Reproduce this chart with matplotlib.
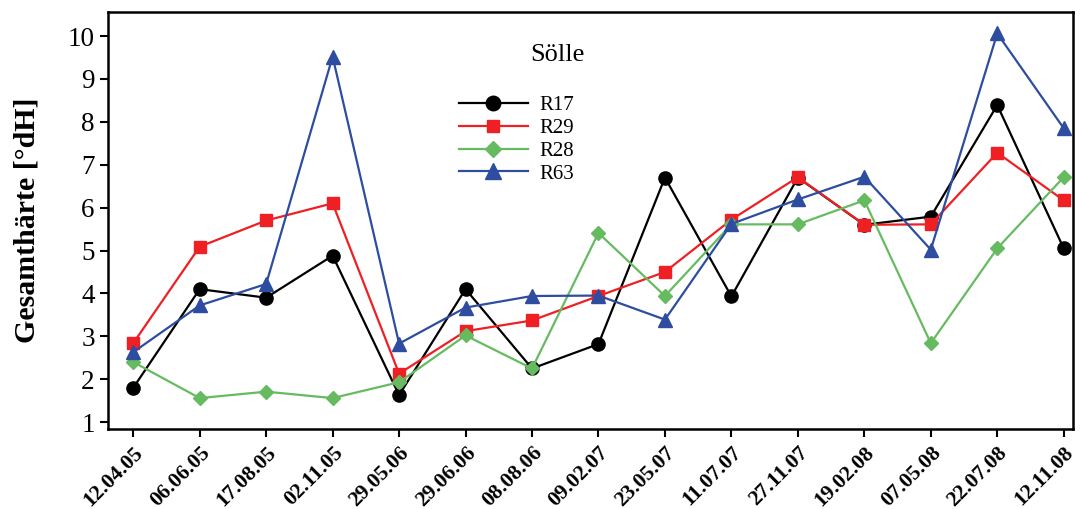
import matplotlib
matplotlib.use("Agg")
import matplotlib.pyplot as plt
import numpy as np

dates = ["12.04.05", "06.06.05", "17.08.05", "02.11.05", "29.05.06", "29.06.06",
         "08.08.06", "09.02.07", "23.05.07", "11.07.07", "27.11.07", "19.02.08",
         "07.05.08", "22.07.08", "12.11.08"]

r17 = [1.8, 4.1, 3.9, 4.88, 1.63, 4.1, 2.25, 2.82, 6.7, 3.93, 6.7, 5.6, 5.79, 8.39, 5.05]
r29 = [2.84, 5.09, 5.7, 6.1, 2.13, 3.12, 3.37, 3.94, 4.5, 5.72, 6.71, 5.6, 5.61, 7.28, 6.17]
r28 = [2.4, 1.56, 1.71, 1.56, 1.93, 3.02, 2.25, 5.41, 3.94, 5.61, 5.61, 6.17, 2.84, 5.05, 6.71]
r63 = [2.63, 3.72, 4.22, 9.52, 2.83, 3.67, 3.94, 3.95, 3.39, 5.62, 6.19, 6.72, 5.02, 10.06, 7.85]

series = [("R17", r17, "black", "o", 9.5),
          ("R29", r29, "#ee2024", "s", 8),
          ("R28", r28, "#66bb61", "D", 7),
          ("R63", r63, "#2e4da0", "^", 10)]

plt.rcParams["font.family"] = "Liberation Serif"

fig = plt.figure(figsize=(10.82, 5.09), dpi=100)
ax = fig.add_axes([0.0998, 0.1572, 0.8919, 0.8192])

x = np.arange(len(dates))
for lab, vals, col, mk, ms in series:
    ax.plot(x, vals, color=col, marker=mk, markersize=ms, lw=1.6,
            markeredgecolor=col, label=lab)

ax.set_xlim(-0.38, 14.14)
ax.set_ylim(0.84, 10.56)
ax.set_yticks(range(1, 11))
ax.set_xticks(x)
ax.set_xticklabels(dates, rotation=45, ha="right", va="top",
                   rotation_mode="anchor", fontsize=15.5, fontweight="bold")
ax.tick_params(axis="y", labelsize=19.5, length=6, width=1.5, direction="out")
ax.tick_params(axis="x", length=6, width=1.5, direction="out", pad=4)
for sp in ax.spines.values():
    sp.set_linewidth(1.8)

ax.set_ylabel("Gesamthärte [°dH]", fontsize=21.5, fontweight="bold", labelpad=20)

ax.text(0.466, 0.897, "Sölle", transform=ax.transAxes, fontsize=19,
        ha="center", va="center")
leg = ax.legend(loc="upper left", bbox_to_anchor=(0.355, 0.82), frameon=False,
                fontsize=15, handlelength=3.3, handletextpad=0.55, labelspacing=0.16,
                borderaxespad=0, markerscale=1.1)

fig.savefig("out.png", dpi=100)
